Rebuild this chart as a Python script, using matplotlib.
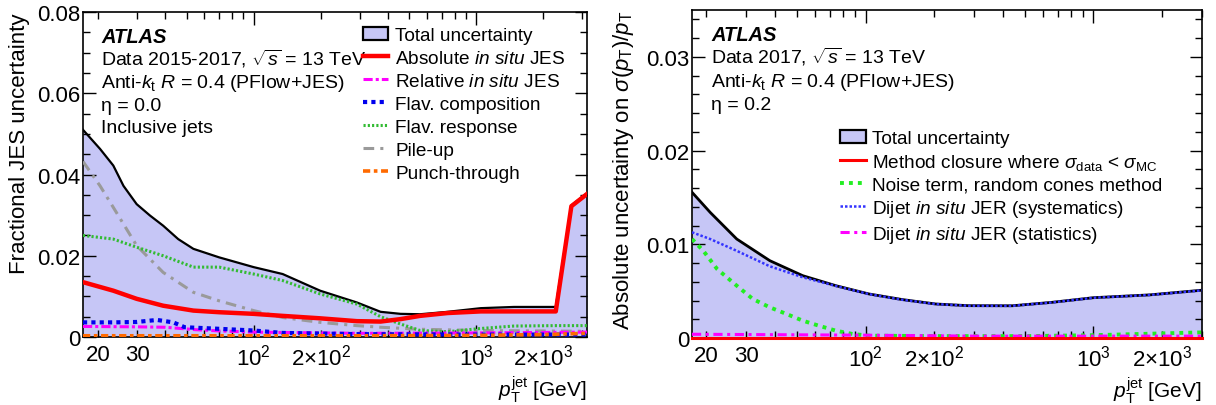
import math
import matplotlib
matplotlib.use("Agg")
import matplotlib.pyplot as plt
from matplotlib.patches import Patch
from matplotlib.lines import Line2D
from matplotlib.ticker import LogLocator, FuncFormatter, MultipleLocator

plt.rcParams['font.family'] = ['Liberation Sans', 'DejaVu Sans']
plt.rcParams['mathtext.fontset'] = 'custom'
plt.rcParams['mathtext.rm'] = 'Liberation Sans'
plt.rcParams['mathtext.it'] = 'Liberation Sans:italic'
plt.rcParams['mathtext.bf'] = 'Liberation Sans:bold'

# ---------------- Left panel data (fractional JES uncertainty) ----------------
L_total_pt = [17.1, 20.4, 23.4, 26.0, 29.8, 34.2, 39.2, 45.8, 53.6, 70, 100, 135, 199, 291, 372,
              457, 560, 745, 1050, 1480, 2280, 2680, 3150]
L_total = [0.0510, 0.0463, 0.0422, 0.0372, 0.0327, 0.0299, 0.0274, 0.0241, 0.0217, 0.0196, 0.0172,
           0.0155, 0.0114, 0.0085, 0.0062, 0.0057, 0.0056, 0.0062, 0.0071, 0.0074, 0.0074, 0.0324, 0.0354]
L_abs_pt = [17.1, 23.4, 29.8, 39.2, 53.6, 70, 100, 135, 199, 291, 372, 457, 560, 745, 1050, 1480, 2280, 2680, 3150]
L_abs = [0.0135, 0.0114, 0.0094, 0.0077, 0.0065, 0.0061, 0.0057, 0.0052, 0.0046, 0.0039, 0.0038,
         0.0044, 0.0052, 0.0059, 0.0063, 0.0063, 0.0063, 0.0322, 0.0352]
L_rel_pt = [17.1, 30, 40, 55, 70, 100, 300, 1000, 3150]
L_rel = [0.0026, 0.0025, 0.0024, 0.0018, 0.0015, 0.0012, 0.0009, 0.0010, 0.0012]
L_comp_pt = [17.1, 23.4, 29.8, 36.8, 43.5, 49, 65, 100, 135, 300, 1000, 3150]
L_comp = [0.0036, 0.0036, 0.0037, 0.0042, 0.0036, 0.0024, 0.0021, 0.0016, 0.0010, 0.0007, 0.0006, 0.0006]
L_resp_pt = [17.1, 23.4, 29.8, 39.2, 53.6, 70, 100, 135, 199, 291, 372, 457, 560, 745, 1050, 1480, 2280, 3150]
L_resp = [0.0250, 0.0241, 0.0221, 0.0200, 0.0172, 0.0172, 0.0155, 0.0139, 0.0106, 0.0081, 0.0050,
          0.0032, 0.0016, 0.0013, 0.0021, 0.0027, 0.0028, 0.0028]
L_pu_pt = [17.1, 20.4, 23.4, 29.8, 39.2, 53.6, 70, 100, 135, 199, 291, 372, 560, 1050, 3150]
L_pu = [0.0432, 0.0372, 0.0319, 0.0225, 0.0159, 0.0110, 0.0089, 0.0065, 0.0048, 0.0036, 0.0028,
        0.0024, 0.0019, 0.0016, 0.0014]
L_pt_pt = [17.1, 300, 1000, 2000, 3150]
L_punch = [0.0003, 0.0003, 0.0004, 0.0006, 0.0009]

# ---------------- Right panel data (absolute JER uncertainty) ----------------
R_total_pt = [17.3, 20.8, 27.2, 38.0, 53.0, 74.1, 103.5, 145, 203, 283, 441, 655, 1000, 1766, 3000]
R_total = [0.01555, 0.0134, 0.01056, 0.00825, 0.00665, 0.00558, 0.0047, 0.0041, 0.00363, 0.00345,
           0.00344, 0.0038, 0.0043, 0.0046, 0.0051]
R_syst_pt = R_total_pt
R_syst = [0.01128, 0.01056, 0.0093, 0.00765, 0.00648, 0.00555, 0.00468, 0.00408, 0.00362, 0.00344,
          0.00343, 0.00379, 0.00429, 0.00459, 0.00508]
R_noise_pt = [17.3, 19.4, 22.3, 27.2, 32.0, 38.0, 45.0, 53.0, 62.4, 74.1, 87.7, 103.5, 200, 500, 1000, 3000]
R_noise = [0.01056, 0.0093, 0.00736, 0.00558, 0.00416, 0.00327, 0.00256, 0.00185, 0.00131, 0.00078,
           0.00043, 0.00025, 0.0002, 0.0002, 0.0003, 0.0006]
R_stat_pt = [17.3, 100, 300, 1000, 3000]
R_stat = [0.0004, 0.0003, 0.0002, 0.0002, 0.0002]
R_clos_pt = [17.3, 3000]
R_clos = [0.0, 0.0]

FILL = '#c6c6f6'
TICK_LABELS = {20: '20', 30: '30', 200: r'$2{\times}10^{2}$', 2000: r'$2{\times}10^{3}$'}
TXT = 14
LEG = 13.7

fig = plt.figure(figsize=(12.16, 4.06), dpi=100)
axL = fig.add_axes([83/1216, 1-338/406, 504/1216, 325/406])
axR = fig.add_axes([692/1216, 1-339/406, 510/1216, 328/406])


def style_axis(ax, xlim, ylim, ymaj, ymin):
    ax.set_xscale('log')
    ax.set_xlim(*xlim)
    ax.set_ylim(*ylim)
    ax.xaxis.set_major_locator(LogLocator(base=10, numticks=10))
    ax.xaxis.set_minor_locator(LogLocator(base=10, subs=range(2, 10), numticks=20))
    ax.xaxis.set_major_formatter(FuncFormatter(lambda v, p: r'$10^{%d}$' % round(math.log10(v))))
    ax.xaxis.set_minor_formatter(FuncFormatter(lambda v, p: TICK_LABELS.get(int(round(v)), '')))
    ax.yaxis.set_major_locator(MultipleLocator(ymaj))
    ax.yaxis.set_minor_locator(MultipleLocator(ymin))
    ax.yaxis.set_major_formatter(FuncFormatter(lambda v, p: '0' if abs(v) < 1e-12 else ('%.2f' % v)))
    ax.tick_params(which='both', direction='in', top=True, right=True, labelsize=16, width=1)
    ax.tick_params(which='major', length=9)
    ax.tick_params(which='minor', length=5)
    ax.tick_params(axis='x', which='both', pad=5)
    ax.tick_params(axis='y', which='both', pad=2)
    for s in ax.spines.values():
        s.set_linewidth(1.2)


# ---------------- Left panel ----------------
style_axis(axL, (17.1, 3150), (0, 0.08), 0.02, 0.005)
axL.fill_between(L_total_pt, 0, L_total, color=FILL, lw=0, zorder=1)
axL.plot(L_total_pt, L_total, color='black', lw=1.6, zorder=3)
axL.plot(L_pu_pt, L_pu, color='#9a9a9a', lw=2.2, ls=(0, (3.5, 2, 1, 2)), zorder=4)
axL.plot(L_resp_pt, L_resp, color='#33bb33', lw=2.2, ls=(0, (0.7, 0.7)), zorder=4)
axL.plot(L_rel_pt, L_rel, color='#ff00ff', lw=2.2, ls=(0, (3, 1, 1, 1)), zorder=4)
axL.plot(L_comp_pt, L_comp, color='#0000ee', lw=3, ls=(0, (1, 1)), zorder=4)
axL.plot(L_pt_pt, L_punch, color='#ff6a00', lw=2.6, ls=(0, (2, 1, 1, 1)), zorder=4)
axL.plot(L_abs_pt, L_abs, color='#ff0000', lw=3.2, zorder=5)

axL.set_ylabel('Fractional JES uncertainty', fontsize=16, loc='top')
axL.yaxis.set_label_coords(-0.105, 1.0)
axL.set_xlabel(r'$p_{\mathrm{T}}^{\mathrm{jet}}$ [GeV]', fontsize=15, loc='right')
axL.xaxis.set_label_coords(1.0, -0.113)

tx = 0.036
axL.text(tx, 0.908, 'ATLAS', transform=axL.transAxes, fontsize=14.5, fontweight='bold', fontstyle='italic', va='baseline')
axL.text(tx, 0.837, r'Data 2015-2017, $\sqrt{s}$ = 13 TeV', transform=axL.transAxes, fontsize=TXT, va='baseline')
axL.text(tx, 0.769, r'Anti-$k_{\mathrm{t}}$ $R$ = 0.4 (PFlow+JES)', transform=axL.transAxes, fontsize=TXT, va='baseline')
axL.text(tx, 0.698, 'η = 0.0', transform=axL.transAxes, fontsize=TXT, va='baseline')
axL.text(tx, 0.631, 'Inclusive jets', transform=axL.transAxes, fontsize=TXT, va='baseline')

hL = [Patch(facecolor=FILL, edgecolor='black', lw=1.6),
      Line2D([], [], color='#ff0000', lw=3.2),
      Line2D([], [], color='#ff00ff', lw=2.2, ls=(0, (3, 1, 1, 1))),
      Line2D([], [], color='#0000ee', lw=3, ls=(0, (1, 1))),
      Line2D([], [], color='#33bb33', lw=2.2, ls=(0, (0.7, 0.7))),
      Line2D([], [], color='#9a9a9a', lw=2.2, ls=(0, (3.5, 2, 1, 2))),
      Line2D([], [], color='#ff6a00', lw=2.6, ls=(0, (2, 1, 1, 1)))]
lL = ['Total uncertainty', r'Absolute $\mathit{in\ situ}$ JES', r'Relative $\mathit{in\ situ}$ JES',
      'Flav. composition', 'Flav. response', 'Pile-up', 'Punch-through']
axL.legend(hL, lL, loc='upper left', bbox_to_anchor=(0.555, 0.955), frameon=False, fontsize=LEG,
           handlelength=1.35, handletextpad=0.35, labelspacing=0.30, borderpad=0, borderaxespad=0)

# ---------------- Right panel ----------------
style_axis(axR, (17.3, 3000), (0, 0.035), 0.01, 0.002)
axR.fill_between(R_total_pt, 0, R_total, color=FILL, lw=0, zorder=1)
axR.plot(R_total_pt, R_total, color='black', lw=2, zorder=3)
axR.plot(R_syst_pt, R_syst, color='#3333ff', lw=1.8, ls=(0, (1, 0.8)), zorder=4)
axR.plot(R_noise_pt, R_noise, color='#22ee22', lw=2.8, ls=(0, (1, 1.3)), zorder=4)
axR.plot(R_stat_pt, R_stat, color='#ff00ff', lw=2.2, ls=(0, (3, 1.5, 1, 1.5)), zorder=4)
axR.plot(R_clos_pt, R_clos, color='#ff0000', lw=2.2, zorder=5, clip_on=False)

axR.set_ylabel(r'Absolute uncertainty on $\sigma(p_{\mathrm{T}})/p_{\mathrm{T}}$', fontsize=16, loc='top')
axR.yaxis.set_label_coords(-0.11, 1.0)
axR.set_xlabel(r'$p_{\mathrm{T}}^{\mathrm{jet}}$ [GeV]', fontsize=15, loc='right')
axR.xaxis.set_label_coords(1.0, -0.110)

tx = 0.038
axR.text(tx, 0.909, 'ATLAS', transform=axR.transAxes, fontsize=14.5, fontweight='bold', fontstyle='italic', va='baseline')
axR.text(tx, 0.841, r'Data 2017, $\sqrt{s}$ = 13 TeV', transform=axR.transAxes, fontsize=TXT, va='baseline')
axR.text(tx, 0.768, r'Anti-$k_{\mathrm{t}}$ $R$ = 0.4 (PFlow+JES)', transform=axR.transAxes, fontsize=TXT, va='baseline')
axR.text(tx, 0.698, 'η = 0.2', transform=axR.transAxes, fontsize=TXT, va='baseline')

hR = [Patch(facecolor=FILL, edgecolor='black', lw=1.6),
      Line2D([], [], color='#ff0000', lw=2.2),
      Line2D([], [], color='#22ee22', lw=2.8, ls=(0, (1, 1.3))),
      Line2D([], [], color='#3333ff', lw=1.8, ls=(0, (1, 0.8))),
      Line2D([], [], color='#ff00ff', lw=2.2, ls=(0, (3, 1.5, 1, 1.5)))]
lR = ['Total uncertainty', r'Method closure where $\sigma_{\mathrm{data}}$ < $\sigma_{\mathrm{MC}}$',
      'Noise term, random cones method', r'Dijet $\mathit{in\ situ}$ JER (systematics)',
      r'Dijet $\mathit{in\ situ}$ JER (statistics)']
axR.legend(hR, lR, loc='upper left', bbox_to_anchor=(0.29, 0.635), frameon=False, fontsize=LEG,
           handlelength=1.35, handletextpad=0.35, labelspacing=0.24, borderpad=0, borderaxespad=0)

fig.savefig('out.png', dpi=100)
